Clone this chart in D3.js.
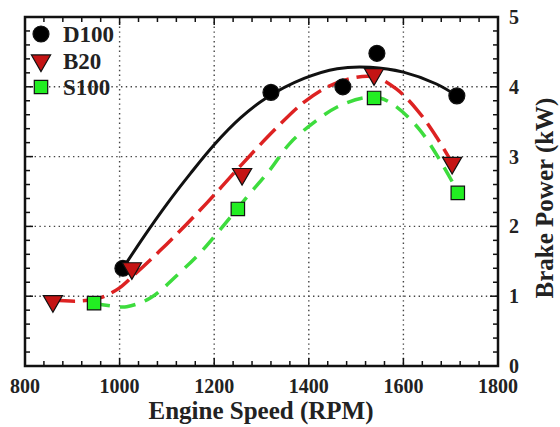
<!DOCTYPE html>
<html lang="en">
<head>
<meta charset="UTF-8">
<title>Brake power vs engine speed</title>
<script src="https://d3js.org/d3.v7.min.js"></script>
<style>
    body { margin: 0; background: #fff; }
    text { font-family: "Liberation Serif", "Times New Roman", serif; font-weight: bold; fill: #222; }
    .grid line { stroke: #444; stroke-width: 1.4; stroke-dasharray: 1.4,3.4; }
    .frame { fill: none; stroke: #111; stroke-width: 2.5; }
    .tick-mark { stroke: #111; stroke-width: 1.5; }
</style>
</head>
<body>
<svg id="chart" width="560" height="427"></svg>
<script>
// measured points
const d100 = [[1007, 1.40], [1320, 3.92], [1472, 4.00], [1544, 4.48], [1713, 3.87]];
const b20 = [[859, 0.93], [1026, 1.40], [1259, 2.75], [1538, 4.18], [1703, 2.91]];
const s100 = [[946, 0.90], [1250, 2.25], [1538, 3.84], [1715, 2.48]];

// fitted trend lines
const d100Fit = [[1007, 1.40], [1050, 1.84], [1100, 2.32], [1150, 2.76], [1200, 3.17], [1255, 3.55],
    [1310, 3.84], [1390, 4.12], [1460, 4.26], [1530, 4.28], [1600, 4.21], [1670, 4.04], [1713, 3.87]];
const b20Fit = [[859, 0.95], [910, 0.93], [960, 0.98], [1000, 1.12], [1030, 1.30], [1085, 1.65],
    [1140, 2.02], [1200, 2.45], [1260, 2.90], [1330, 3.40], [1390, 3.78], [1440, 4.00], [1495, 4.13],
    [1540, 4.14], [1585, 3.97], [1630, 3.66], [1670, 3.28], [1703, 2.91]];
const s100Fit = [[946, 0.90], [995, 0.85], [1015, 0.85], [1064, 0.97], [1134, 1.38], [1170, 1.62],
    [1212, 1.95], [1269, 2.42], [1318, 2.81], [1360, 3.19], [1409, 3.48], [1460, 3.71], [1515, 3.84],
    [1550, 3.84], [1586, 3.71], [1635, 3.38], [1677, 2.95], [1713, 2.52]];

const xTicks = [800, 1000, 1200, 1400, 1600, 1800];
const yTicks = [0, 1, 2, 3, 4, 5];
const seriesNames = ["D100", "B20", "S100"];

const svg = d3.select("#chart");
const pl = 25, pr = 498, pt = 17, pb = 366;

const x = d3.scaleLinear().domain([800, 1800]).range([pl, pr]);
const y = d3.scaleLinear().domain([0, 5]).range([pb, pt]);

// grid
const grid = svg.append("g").attr("class", "grid");
grid.selectAll("line.gx").data(xTicks.slice(1, -1)).join("line")
    .attr("class", "gx")
    .attr("x1", d => x(d)).attr("x2", d => x(d)).attr("y1", pt).attr("y2", pb);
grid.selectAll("line.gy").data(yTicks.slice(1, -1)).join("line")
    .attr("class", "gy")
    .attr("x1", pl).attr("x2", pr).attr("y1", d => y(d)).attr("y2", d => y(d));

// ticks inward on all four sides
const xMinor = d3.range(800, 1801, 40);
const yMinor = d3.range(0, 5.01, 0.2);
const ticks = svg.append("g");
xMinor.forEach(v => {
    const len = xTicks.includes(v) ? 8 : 5;
    ticks.append("line").attr("class", "tick-mark")
        .attr("x1", x(v)).attr("x2", x(v)).attr("y1", pb).attr("y2", pb - len);
    ticks.append("line").attr("class", "tick-mark")
        .attr("x1", x(v)).attr("x2", x(v)).attr("y1", pt).attr("y2", pt + len);
});
yMinor.forEach(v => {
    const len = Math.abs(v - Math.round(v)) < 1e-6 ? 8 : 5;
    ticks.append("line").attr("class", "tick-mark")
        .attr("x1", pl).attr("x2", pl + len).attr("y1", y(v)).attr("y2", y(v));
    ticks.append("line").attr("class", "tick-mark")
        .attr("x1", pr).attr("x2", pr - len).attr("y1", y(v)).attr("y2", y(v));
});

svg.append("rect").attr("class", "frame")
    .attr("x", pl).attr("y", pt).attr("width", pr - pl).attr("height", pb - pt);

// tick labels
svg.selectAll("text.xl").data(xTicks).join("text")
    .attr("class", "xl")
    .attr("x", d => x(d)).attr("y", 393)
    .attr("text-anchor", "middle").style("font-size", "20px")
    .text(d => d);
svg.selectAll("text.yl").data(yTicks).join("text")
    .attr("class", "yl")
    .attr("x", 509).attr("y", d => y(d) + 7)
    .style("font-size", "20px")
    .text(d => d);

svg.append("text").attr("x", 261).attr("y", 419).attr("text-anchor", "middle")
    .style("font-size", "25px").text("Engine Speed (RPM)");
svg.append("text").attr("transform", "translate(553,198) rotate(-90)").attr("text-anchor", "middle")
    .style("font-size", "25px").text("Brake Power (kW)");

// fit lines
const line = d3.line().x(d => x(d[0])).y(d => y(d[1])).curve(d3.curveCatmullRom);
svg.append("path").datum(d100Fit).attr("d", line)
    .attr("fill", "none").attr("stroke", "#111").attr("stroke-width", 3);
svg.append("path").datum(b20Fit).attr("d", line)
    .attr("fill", "none").attr("stroke", "#dd2222").attr("stroke-width", 3.5)
    .attr("stroke-dasharray", "22,8");
svg.append("path").datum(s100Fit).attr("d", line)
    .attr("fill", "none").attr("stroke", "#3ddc3d").attr("stroke-width", 3.5)
    .attr("stroke-dasharray", "16,10");

// markers
const circle = d3.symbol().type(d3.symbolCircle).size(200);
const square = d3.symbol().type(d3.symbolSquare).size(180);
const tri = d3.symbol().type(d3.symbolTriangle).size(160);

function drawMarks(data, sym, fill, rot) {
    svg.append("g").selectAll("path").data(data).join("path")
        .attr("d", sym)
        .attr("transform", d => `translate(${x(d[0])},${y(d[1])}) rotate(${rot})`)
        .attr("fill", fill).attr("stroke", "#111").attr("stroke-width", 1.2);
}
drawMarks(d100, circle, "#000", 0);
drawMarks(b20, tri, "#c41414", 180);
drawMarks(s100, square, "#22ee22", 0);

// legend
const legendSyms = [[circle, "#000", 0], [tri, "#c41414", 180], [square, "#22ee22", 0]];
seriesNames.forEach((name, i) => {
    const ly = 34 + i * 26.5;
    svg.append("path").attr("d", legendSyms[i][0])
        .attr("transform", `translate(41,${ly}) rotate(${legendSyms[i][2]})`)
        .attr("fill", legendSyms[i][1]).attr("stroke", "#111").attr("stroke-width", 1.2);
    svg.append("text").attr("x", 63).attr("y", ly + 8).style("font-size", "23px").text(name);
});
</script>
</body>
</html>
